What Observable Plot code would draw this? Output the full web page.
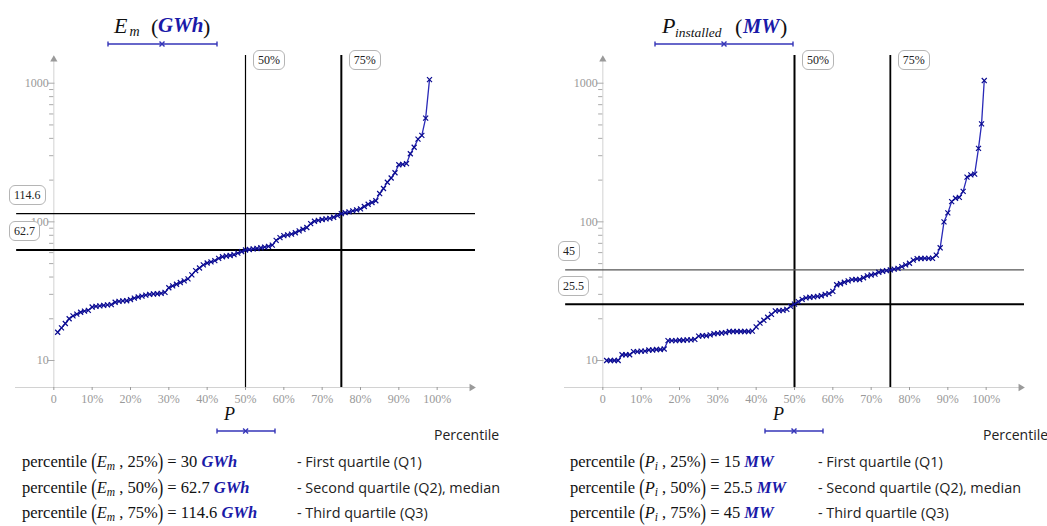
<!DOCTYPE html>
<html><head><meta charset="utf-8">
<script src="https://cdn.jsdelivr.net/npm/d3@7"></script>
<script src="https://cdn.jsdelivr.net/npm/@observablehq/plot@0.6"></script>
<style>
body{margin:0;background:#fff;}
#root{position:relative;width:1047px;height:526px;overflow:hidden;font-family:"Liberation Serif",serif;color:#111;}
.abs{position:absolute;white-space:nowrap;line-height:1;}
.box{position:absolute;border:1px solid #b5b5b5;border-radius:6px;background:#fff;font:12px "Liberation Serif",serif;color:#222;padding:0 4px;height:20px;line-height:19px;box-sizing:border-box;text-align:center;white-space:nowrap;}
.fm{position:absolute;white-space:nowrap;font:16.5px "Liberation Serif",serif;line-height:16px;color:#111;}
.fm .bp{display:inline-block;transform:scale(1,1.4);}
.fm .sb{position:relative;top:3px;font-size:11.5px;font-style:italic;line-height:10px;}
.fm .u{color:#1a1aa8;font-style:italic;font-weight:bold;}
.desc{position:absolute;white-space:nowrap;font:14.4px "Open Sans",sans-serif;color:#222;line-height:16px;}
</style></head><body><div id="root"></div>
<script>
// ---------- data ----------
const percentE = [1,2,3,4,5,6,7,8,9,10,11,12,13,14,15,16,17,18,19,20,21,22,23,24,25,26,27,28,29,30,31,32,33,34,35,36,37,38,39,40,41,42,43,44,45,46,47,48,49,50,51,52,53,54,55,56,57,58,59,60,61,62,63,64,65,66,67,68,69,70,71,72,73,74,75,76,77,78,79,80,81,82,83,84,85,86,87,88,89,90,91,92,93,94,95,96,97,98];
const energyGWh = [16.0,17.2,18.5,20.0,21.0,21.6,22.3,22.7,23.0,24.3,24.6,24.8,25.0,25.2,25.3,26.3,26.7,26.9,27.0,27.5,28.2,28.7,29.1,29.6,30.0,30.2,30.3,30.5,31.0,33.5,34.5,35.5,36.5,37.5,38.8,41.5,44.5,46.5,49.0,50.5,51.5,52.5,54.5,56.0,56.7,57.2,58.0,59.5,61.0,62.7,63.2,63.8,64.3,65.0,65.8,66.5,68.0,73.5,77.0,79.5,80.5,81.5,83.5,86.0,88.5,91.0,97.0,101.0,102.5,104.0,105.0,106.0,108.0,111.0,114.6,116.5,118.0,120.0,122.0,124.0,129.0,134.0,138.0,142.0,160.0,174.0,193.0,207.0,226.0,258.0,260.0,263.0,310.0,345.0,395.0,420.0,560.0,1060.0];
const percentP = [1,2,3,4,5,6,7,8,9,10,11,12,13,14,15,16,17,18,19,20,21,22,23,24,25,26,27,28,29,30,31,32,33,34,35,36,37,38,39,40,41,42,43,44,45,46,47,48,49,50,51,52,53,54,55,56,57,58,59,60,61,62,63,64,65,66,67,68,69,70,71,72,73,74,75,76,77,78,79,80,81,82,83,84,85,86,87,88,89,90,91,92,93,94,95,96,97,98,98.8,99.5];
const powerMW = [10.0,10.0,10.0,10.0,11.0,11.0,11.0,11.6,11.6,11.7,11.7,11.9,11.9,12.0,12.0,12.1,13.9,13.9,13.9,14.0,14.0,14.1,14.1,14.2,15.0,15.1,15.1,15.3,15.6,15.7,15.8,15.9,16.2,16.2,16.2,16.2,16.2,16.2,16.3,17.5,18.6,19.5,20.5,21.5,22.8,22.9,23.0,23.4,24.6,25.5,26.6,27.6,28.3,28.6,28.8,29.0,29.3,30.0,30.4,31.5,35.2,35.8,36.7,37.5,38.3,38.4,38.4,39.5,40.8,41.4,42.0,43.3,44.0,44.5,45.0,45.6,46.2,47.5,49.0,50.3,53.0,54.3,54.4,54.5,54.5,54.6,57.5,65.0,100.0,116.0,140.0,148.0,150.0,166.0,210.0,218.0,221.0,339.0,509.0,1045.0];
const quartileLevels = [25, 50, 75];
const quartilesE = [30, 62.7, 114.6];
const quartilesP = [15, 25.5, 45];
const xTicks = [0,10,20,30,40,50,60,70,80,90,100];
const yMajor = [10, 100, 1000];
const yMinor = [20,30,40,50,60,70,80,90,200,300,400,500,600,700,800,900];
const descriptions = ["- First quartile (Q1)", "- Second quartile (Q2), median", "- Third quartile (Q3)"];

// ---------- layout constants ----------
const Y_MIN = 6.388, Y_MAX = 1507, Y_TOP = 1585;
const root = document.getElementById("root");
const fmtPct = d => d === 0 ? "0" : d + "%";
const serif = "Liberation Serif";

function chart(P, V, Q, st) {
  const rows = P.map((p, i) => ({p, v: V[i]}));
  return Plot.plot({
    width: st.width, height: 420,
    marginLeft: 15, marginRight: st.mr, marginTop: 58, marginBottom: 33,
    x: {domain: [-10, 110]},
    y: {type: "log", domain: [Y_MIN, Y_MAX], axis: null},
    style: {background: "none", overflow: "visible"},
    marks: [
      Plot.ruleY([Y_MIN], {x1: -10, x2: 108.8, stroke: "#d2d2d2"}),
      Plot.ruleX([0], {y1: Y_MIN, y2: Y_MAX, stroke: "#d2d2d2"}),
      Plot.axisX({ticks: xTicks, tickFormat: fmtPct, tickSize: 3, tickPadding: 4, color: "#999999", fontFamily: serif, fontSize: 12, label: null}),
      Plot.ruleY(yMinor, {y: d => d, x1: -1.1, x2: 0, stroke: "#aaaaaa"}),
      Plot.ruleY(yMajor, {y: d => d, x1: -1.5, x2: 0.3, stroke: "#aaaaaa"}),
      Plot.text(yMajor, {x: 0, y: d => d, text: d => String(d), textAnchor: "end", dx: -5, fill: "#999999", fontFamily: serif, fontSize: 12}),
      Plot.dot([Y_MAX], {x: 0, y: d => d, symbol: "triangle", r: 2.7, fill: "#9a9a9a", stroke: "none", dy: 1}),
      Plot.dot([109], {x: d => d, y: Y_MIN, symbol: "triangle", rotate: 90, r: 2.7, fill: "#9a9a9a", stroke: "none"}),
      Plot.ruleX([quartileLevels[1]], {x: d => d, y1: Y_MIN, y2: Y_TOP, stroke: "#000", strokeWidth: st.w50}),
      Plot.ruleX([quartileLevels[2]], {x: d => d, y1: Y_MIN, y2: Y_TOP, stroke: "#000", strokeWidth: st.w75}),
      Plot.ruleY([Q[2]], {y: d => d, x1: -9.7, x2: 110, stroke: st.cQ3, strokeWidth: st.wQ3}),
      Plot.ruleY([Q[1]], {y: d => d, x1: -9.7, x2: 110, stroke: "#000", strokeWidth: st.wQ2}),
      Plot.line(rows, {x: "p", y: "v", stroke: "#2a2ab8", strokeWidth: 1.3}),
      Plot.dot(rows, {x: "p", y: "v", symbol: "times", r: 2.4, stroke: "#0b0b90", strokeWidth: 1.2})
    ]
  });
}

function addAbs(html, cls, left, top, css) {
  const d = document.createElement("div");
  d.className = cls; d.innerHTML = html;
  d.style.left = left + "px"; d.style.top = top + "px";
  if (css) Object.assign(d.style, css);
  root.appendChild(d);
  return d;
}
function piece(text, left, baseline, fs, style) {
  return addAbs(text, "abs", left, baseline - 0.84 * fs, Object.assign({fontSize: fs + "px", fontFamily: serif}, style || {}));
}
function bar(x1, x2, y, mid) {
  const ns = "http://www.w3.org/2000/svg";
  const s = document.createElementNS(ns, "svg");
  s.setAttribute("width", 1047); s.setAttribute("height", 526);
  s.style.position = "absolute"; s.style.left = "0"; s.style.top = "0"; s.style.pointerEvents = "none";
  s.innerHTML = `<g stroke="#3535b8" stroke-width="1.4" fill="none">
    <line x1="${x1}" y1="${y}" x2="${x2}" y2="${y}"/>
    <line x1="${x1}" y1="${y-2.5}" x2="${x1}" y2="${y+2.5}"/>
    <line x1="${x2}" y1="${y-2.5}" x2="${x2}" y2="${y+2.5}"/>
    <line x1="${mid-2.5}" y1="${y-2.5}" x2="${mid+2.5}" y2="${y+2.5}"/>
    <line x1="${mid-2.5}" y1="${y+2.5}" x2="${mid+2.5}" y2="${y-2.5}"/></g>`;
  root.appendChild(s);
}

function place(c, left) {
  const w = document.createElement("div");
  w.style.position = "absolute"; w.style.left = left + "px"; w.style.top = "0px";
  w.appendChild(c); root.appendChild(w);
}

const cL = chart(percentE, energyGWh, quartilesE, {width: 520, mr: 45, w50: 1.2, w75: 2, wQ3: 1.2, cQ3: "#000", wQ2: 2});
const cR = chart(percentP, powerMW, quartilesP, {width: 498, mr: 23, w50: 2, w75: 1.8, wQ3: 1.3, cQ3: "#555", wQ2: 2});
place(cL, 0); place(cR, 549);

function labels(c, left, Q) {
  const sx = c.scale("x"), sy = c.scale("y");
  for (const lv of [quartileLevels[1], quartileLevels[2]]) {
    addAbs(lv + "%", "box", left + sx.apply(lv) + 8, 50);
  }
  for (const q of [Q[2], Q[1]]) {
    addAbs(String(q), "box", 9 + left, sy.apply(q) - 28);
  }
}
labels(cL, 0, quartilesE);
labels(cR, 549, quartilesP);

// titles
piece("E", 114, 33, 22, {fontStyle: "italic"});
piece("m", 129.5, 37, 14, {fontStyle: "italic"});
piece("(", 151, 34, 22);
piece("GWh", 158, 33, 21, {fontStyle: "italic", fontWeight: "bold", color: "#1a1aa8"});
piece(")", 203, 34, 22);
bar(108, 217, 44, 162);

piece("P", 662, 33, 22, {fontStyle: "italic"});
piece("installed", 675, 37, 13.5, {fontStyle: "italic"});
piece("(", 735, 34, 22);
piece("MW", 743, 33, 20.5, {fontStyle: "italic", fontWeight: "bold", color: "#1a1aa8"});
piece(")", 780, 34, 22);
bar(655, 793, 44, 724);

// axis labels
piece("P", 224, 420, 18, {fontStyle: "italic"});
bar(217, 275, 431, 245.6);
piece("P", 773, 420, 18, {fontStyle: "italic"});
bar(765, 823, 431, 794);
addAbs("Percentile", "abs", 434, 425, {font: '14px "Open Sans", sans-serif', color: "#222"});
addAbs("Percentile", "abs", 983, 425, {font: '14px "Open Sans", sans-serif', color: "#222"});

// formulas
const baselines = [467, 493, 518];
quartileLevels.forEach((lv, i) => {
  const top = baselines[i] - 13;
  addAbs(`percentile <span class="bp">(</span><i>E</i><span class="sb">m</span> , ${lv}%<span class="bp">)</span> = ${quartilesE[i]} <span class="u">GWh</span>`, "fm", 22, top);
  addAbs(descriptions[i], "desc", 297, top);
  addAbs(`percentile <span class="bp">(</span><i>P</i><span class="sb">i</span> , ${lv}%<span class="bp">)</span> = ${quartilesP[i]} <span class="u">MW</span>`, "fm", 570, top);
  addAbs(descriptions[i], "desc", 818, top);
});
</script></body></html>
